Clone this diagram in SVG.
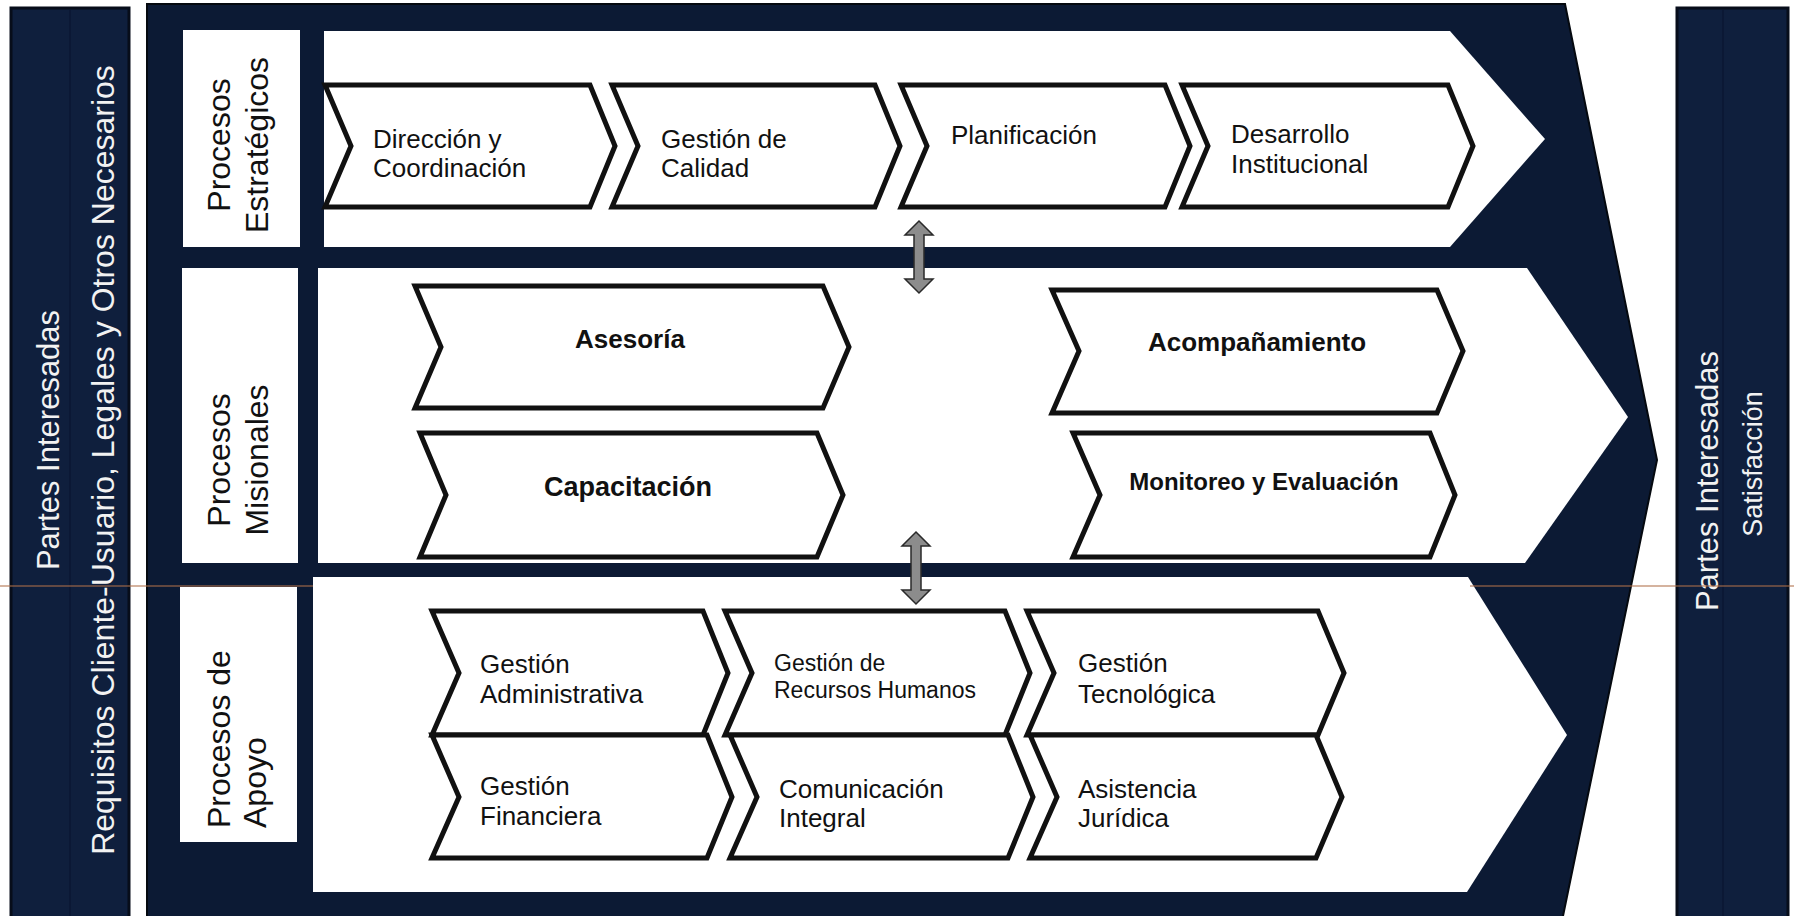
<svg xmlns="http://www.w3.org/2000/svg" width="1794" height="916" viewBox="0 0 1794 916">
<style>
.bar{fill:#0f1f3d;stroke:#070d1a;stroke-width:3}
.frame{fill:#0c1a34;stroke:#05090f;stroke-width:2}
.lane{fill:#ffffff}
.lbl{fill:#ffffff}
.chev{fill:#ffffff;stroke:#111111;stroke-width:5;stroke-linejoin:miter}
.t{font-family:"Liberation Sans",Arial,sans-serif;font-size:26px;fill:#111111}
.tb{font-family:"Liberation Sans",Arial,sans-serif;font-size:26px;font-weight:bold;fill:#111111;text-anchor:middle}
.side{font-family:"Liberation Sans",Arial,sans-serif;font-size:31px;fill:#f2f2f2;text-anchor:middle}
.lt{font-family:"Liberation Sans",Arial,sans-serif;font-size:32px;fill:#111111}
.dbl{fill:#8c8c8c;stroke:#2a2a2a;stroke-width:1.5}
</style>
<defs>
<path id="dblArrow" d="M0,0 L14,14 L5,14 L5,58 L14,58 L0,72 L-14,58 L-5,58 L-5,14 L-14,14 Z"/>
</defs>
<rect width="1794" height="916" fill="#ffffff"/>

<g id="left-bar">
<rect class="bar" x="11" y="8" width="118" height="912"/>
<line x1="70" y1="10" x2="70" y2="916" stroke="#0b1733" stroke-width="1.5"/>
<text class="side" transform="translate(59,440) rotate(-90)">Partes Interesadas</text>
<text class="side" style="font-size:32px" transform="translate(114,460) rotate(-90)">Requisitos Cliente-Usuario, Legales y Otros Necesarios</text>
</g>

<g id="right-bar">
<rect class="bar" x="1677" y="8" width="111" height="912"/>
<line x1="1723" y1="10" x2="1723" y2="916" stroke="#0b1733" stroke-width="1.5"/>
<text class="side" transform="translate(1718,481) rotate(-90)">Partes Interesadas</text>
<text class="side" style="font-size:27px" transform="translate(1762,464) rotate(-90)">Satisfacción</text>
</g>

<g id="frame">
<polygon class="frame" points="147,4 1565,4 1657,460 1563,916 1562,922 147,922"/>
</g>

<g id="lane-estrategicos">
<rect class="lbl" x="183" y="30" width="117" height="217"/>
<text class="lt" text-anchor="middle" transform="translate(230,145) rotate(-90)">Procesos</text>
<text class="lt" text-anchor="middle" transform="translate(268,145) rotate(-90)">Estratégicos</text>
<polygon class="lane" points="324,31 1450,31 1545,139 1450,247 324,247"/>
</g>

<g id="lane-misionales">
<rect class="lbl" x="182" y="268" width="116" height="295"/>
<text class="lt" text-anchor="middle" transform="translate(230,460) rotate(-90)">Procesos</text>
<text class="lt" text-anchor="middle" transform="translate(268,460) rotate(-90)">Misionales</text>
<polygon class="lane" points="318,268 1527,268 1628,417 1525,563 318,563"/>
</g>

<g id="lane-apoyo">
<rect class="lbl" x="180" y="587" width="117" height="255"/>
<text class="lt" text-anchor="start" transform="translate(230,828) rotate(-90)">Procesos de</text>
<text class="lt" text-anchor="start" transform="translate(266,828) rotate(-90)">Apoyo</text>
<polygon class="lane" points="313,577 1468,577 1567,735 1467,892 313,892"/>
</g>

<g id="scan-line" stroke="#b0704a" stroke-width="1.5" opacity="0.7">
<line x1="0" y1="586" x2="313" y2="586"/>
<line x1="1470" y1="586" x2="1794" y2="586"/>
</g>

<g id="direccion-coordinacion">
<polygon class="chev" points="325,85 590,85 615,146 590,207 325,207 351,146"/>
<text class="t" x="373" y="148">Dirección y</text>
<text class="t" x="373" y="177">Coordinación</text>
</g>
<g id="gestion-calidad">
<polygon class="chev" points="612,85 875,85 900,146 875,207 612,207 638,146"/>
<text class="t" x="661" y="148">Gestión de</text>
<text class="t" x="661" y="177">Calidad</text>
</g>
<g id="planificacion">
<polygon class="chev" points="901,85 1165,85 1190,146 1165,207 901,207 927,146"/>
<text class="t" x="951" y="144">Planificación</text>
</g>
<g id="desarrollo-institucional">
<polygon class="chev" points="1182,85 1448,85 1473,146 1448,207 1182,207 1208,146"/>
<text class="t" x="1231" y="143">Desarrollo</text>
<text class="t" x="1231" y="173">Institucional</text>
</g>

<g id="asesoria">
<polygon class="chev" points="415,286 823,286 849,347 823,408 415,408 441,347"/>
<text class="tb" x="630" y="348">Asesoría</text>
</g>
<g id="capacitacion">
<polygon class="chev" points="420,433 817,433 843,495 817,557 420,557 446,495"/>
<text class="tb" x="628" y="496" style="font-size:27px">Capacitación</text>
</g>
<g id="acompanamiento">
<polygon class="chev" points="1052,290 1437,290 1463,351 1437,413 1052,413 1079,351"/>
<text class="tb" x="1257" y="351">Acompañamiento</text>
</g>
<g id="monitoreo-evaluacion">
<polygon class="chev" points="1073,433 1430,433 1455,495 1430,557 1073,557 1100,495"/>
<text class="tb" x="1264" y="490" style="font-size:24px">Monitoreo y Evaluación</text>
</g>

<g id="gestion-administrativa">
<polygon class="chev" points="432,611 703,611 728,673 703,735 432,735 459,673"/>
<text class="t" x="480" y="673">Gestión</text>
<text class="t" x="480" y="703">Administrativa</text>
</g>
<g id="gestion-financiera">
<polygon class="chev" points="432,735 707,735 732,797 707,858 432,858 459,797"/>
<text class="t" x="480" y="795">Gestión</text>
<text class="t" x="480" y="825">Financiera</text>
</g>
<g id="gestion-rrhh">
<polygon class="chev" points="725,611 1005,611 1030,673 1005,735 725,735 752,673"/>
<text class="t" x="774" y="671" style="font-size:23px">Gestión de</text>
<text class="t" x="774" y="698" style="font-size:23px">Recursos Humanos</text>
</g>
<g id="comunicacion-integral">
<polygon class="chev" points="730,735 1008,735 1033,797 1008,858 730,858 757,797"/>
<text class="t" x="779" y="798">Comunicación</text>
<text class="t" x="779" y="827">Integral</text>
</g>
<g id="gestion-tecnologica">
<polygon class="chev" points="1027,611 1318,611 1344,673 1318,735 1027,735 1054,673"/>
<text class="t" x="1078" y="672">Gestión</text>
<text class="t" x="1078" y="703">Tecnológica</text>
</g>
<g id="asistencia-juridica">
<polygon class="chev" points="1030,735 1316,735 1342,797 1316,858 1030,858 1057,797"/>
<text class="t" x="1078" y="798">Asistencia</text>
<text class="t" x="1078" y="827">Jurídica</text>
</g>

<g id="connectors">
<use href="#dblArrow" class="dbl" transform="translate(919,221)"/>
<use href="#dblArrow" class="dbl" transform="translate(916,532)"/>
</g>
</svg>
